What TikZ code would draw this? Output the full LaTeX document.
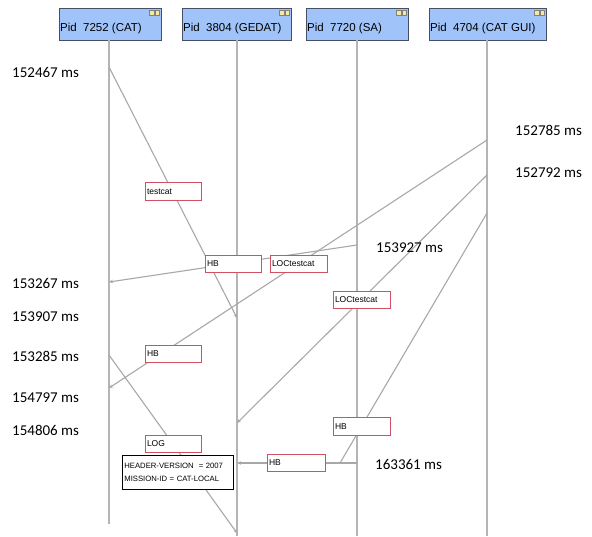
\documentclass[tikz,border=0pt]{standalone}
\usepackage{fontspec}
\setmainfont{Liberation Sans}
\newfontfamily\calfont{Carlito}
\usetikzlibrary{arrows.meta}
\definecolor{hdr}{RGB}{160,196,250}
\definecolor{hdrline}{RGB}{70,80,100}
\definecolor{life}{RGB}{180,180,180}
\definecolor{msg}{RGB}{168,168,168}
\definecolor{lbl}{RGB}{210,80,100}
\definecolor{icon}{RGB}{245,232,160}
\begin{document}
\begin{tikzpicture}[x=1pt,y=-1pt,
  hdrbox/.style={draw=hdrline, fill=hdr, line width=0.8pt, anchor=north west,
    minimum height=32pt, inner sep=0pt},
  hdrtext/.style={anchor=base west, inner sep=0pt, font=\fontsize{11.5}{13}\selectfont},
  lifeline/.style={draw=life, line width=2.6pt},
  message/.style={draw=msg, line width=1.1pt},
  arrmsg/.style={message, -{Stealth[length=4pt,width=3.5pt]}},
  lblbox/.style={draw=lbl, fill=white, line width=1pt, anchor=north west,
    minimum height=17pt, inner xsep=1.5pt, inner ysep=1pt, align=left,
    font=\fontsize{8.5}{9}\selectfont},
  tipbox/.style={draw=black, fill=white, line width=0.8pt, anchor=north west,
    text width=107pt, minimum height=34pt, inner xsep=2pt, inner ysep=3pt, align=left,
    font=\fontsize{7.7}{12.5}\selectfont},
  timelbl/.style={anchor=base west, inner sep=0pt, font=\calfont\fontsize{15}{17}\selectfont},
  iconbox/.style={draw=gray, fill=icon, line width=0.4pt, minimum size=4.5pt, inner sep=0pt}
]
\useasboundingbox[fill=white] (0,0) rectangle (592,536);

% header boxes
\node[hdrbox, minimum width=102pt] (h1) at (59,8) {};
\node[hdrbox, minimum width=109pt] (h2) at (182,8) {};
\node[hdrbox, minimum width=102pt] (h3) at (306,8) {};
\node[hdrbox, minimum width=117pt] (h4) at (429,8) {};
\node[hdrtext] (t1) at (60,31) {Pid\ \ 7252 (CAT)};
\node[hdrtext] (t2) at (183,31) {Pid\ \ 3804 (GEDAT)};
\node[hdrtext] (t3) at (307,31) {Pid\ \ 7720 (SA)};
\node[hdrtext] (t4) at (430,31) {Pid\ \ 4704 (CAT GUI)};
\foreach \h in {h1,h2,h3,h4}{
  \node[iconbox] (\h ia) at ([xshift=-10pt,yshift=-4.5pt]\h.north east) {};
  \node[iconbox] (\h ib) at ([xshift=-4.5pt,yshift=-4.5pt]\h.north east) {};
}

% lifeline ends
\coordinate (l1t) at (109,40); \coordinate (l1b) at (109,524);
\coordinate (l2t) at (237,40); \coordinate (l2b) at (237,536);
\coordinate (l3t) at (357,40); \coordinate (l3b) at (357,536);
\coordinate (l4t) at (487,40); \coordinate (l4b) at (487,536);
\draw[lifeline] (l1t) -- (l1b);
\draw[lifeline] (l2t) -- (l2b);
\draw[lifeline] (l3t) -- (l3b);
\draw[lifeline] (l4t) -- (l4b);

% message end points
\coordinate (m1s) at (109,67);  \coordinate (m1e) at (237,318);
\coordinate (m2s) at (487,140); \coordinate (m2e) at (109,388);
\coordinate (m3s) at (487,175); \coordinate (m3e) at (237,423);
\coordinate (m4s) at (357,245); \coordinate (m4e) at (109,282);
\coordinate (m5s) at (109,355); \coordinate (m5e) at (237,533);
\coordinate (m6s) at (357,463); \coordinate (m6e) at (237,463);
\coordinate (m7s) at (487,213); \coordinate (m7e) at (340,463);

\draw[arrmsg] (m1s) -- (m1e);
\draw[arrmsg] (m2s) -- (m2e);
\draw[arrmsg] (m3s) -- (m3e);
\draw[arrmsg] (m4s) -- (m4e);
\draw[arrmsg] (m5s) -- (m5e);
\draw[arrmsg] (m6s) -- (m6e);
\draw[message] (m7s) -- (m7e);

% labels
\node[lblbox, text width=53pt, minimum height=18pt] (b1) at (145,182) {testcat};
\node[lblbox, text width=53pt] (b2) at (205,255) {HB};
\node[lblbox, text width=54pt] (b3) at (270,255) {LOCtestcat};
\node[lblbox, text width=54pt] (b4) at (333,291) {LOCtestcat};
\node[lblbox, text width=53pt] (b5) at (145,345) {HB};
\node[lblbox, text width=53pt] (b6) at (145,435) {LOG};
\node[lblbox, text width=54pt, minimum height=18pt] (b7) at (333,417) {HB};
\node[lblbox, text width=55pt] (b8) at (267,454) {HB};

\node[tipbox] (tip) at (122,455) {HEADER-VERSION\ \ = 2007\\MISSION-ID = CAT-LOCAL};

% time labels
\node[timelbl] (s1) at (12,77) {152467 ms};
\node[timelbl] (s2) at (12,288) {153267 ms};
\node[timelbl] (s3) at (12,321) {153907 ms};
\node[timelbl] (s4) at (12,361) {153285 ms};
\node[timelbl] (s5) at (12,402) {154797 ms};
\node[timelbl] (s6) at (12,435) {154806 ms};
\node[timelbl] (s7) at (515,135) {152785 ms};
\node[timelbl] (s8) at (515,177) {152792 ms};
\node[timelbl] (s9) at (376,252) {153927 ms};
\node[timelbl] (s10) at (375,469) {163361 ms};
\end{tikzpicture}
\end{document}
